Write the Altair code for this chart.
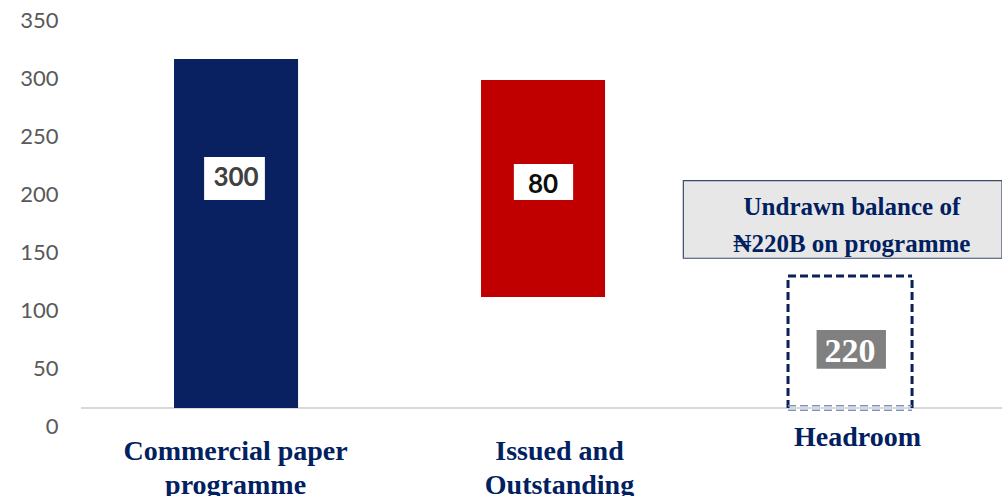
import json
import altair as alt
import pandas as pd

# ---- data (value units of the y axis) ----
categories = ["Commercial paper programme", "Issued and Outstanding", "Headroom"]
label_lines = [["Commercial paper", "programme"], ["Issued and", "Outstanding"], ["Headroom"]]
label_pos = [0.502, 1.557, 2.528]          # where each category caption sits
bar_center = [0.505, 1.505, 2.505]
bar_half = 0.202
bar_start = [15.5, 111.2, 15.5]
bar_end = [316.4, 298.3, 129.3]
bar_fill = ["#0a2161", "#c00000", "none"]
value_labels = ["300", "80", "220"]
value_label_y = [213.5, 207.8, 64.1]
value_box_x = [(0.401, 0.599), (1.410, 1.603), (2.396, 2.622)]
value_box_y = [(194.8, 231.9), (194.8, 225.9), (49.4, 82.8)]
value_box_fill = ["#ffffff", "#ffffff", "#808080"]
value_text_color = ["#404040", "#0d0d0d", "#ffffff"]
baseline_value = 15.5
note_lines = ["Undrawn balance of", "₦220B on programme"]
note_box_x = (1.962, 3.0)
note_box_y = (144.6, 211.5)
note_first_line = (2.511, 189.1)
y_ticks = [0, 50, 100, 150, 200, 250, 300, 350]

NAVY = "#002060"

xs = alt.Scale(domain=[0, 3], nice=False, zero=False)
ys = alt.Scale(domain=[0, 350], nice=False, zero=False)

expr = "datum.value < 1 ? {} : datum.value < 2 ? {} : {}".format(
    *[json.dumps(l) for l in label_lines])

xaxis = alt.Axis(values=label_pos, labelExpr=expr, title=None, grid=False, ticks=False,
                 domain=False, labelFont="Liberation Serif", labelFontWeight="bold",
                 labelFontSize=28, labelColor=NAVY, labelLineHeight=34, labelAngle=0,
                 labelFlush=False, labelOverlap=False, labelLimit=0,
                 labelPadding={"condition": {"test": "datum.value > 2", "value": -3}, "value": 11})
yaxis = alt.Axis(values=y_ticks, title=None, grid=False, ticks=False, domain=False,
                 labelFont="Lato", labelFontSize=22, labelColor="#595959", labelPadding=23)

bars_df = pd.DataFrame({
    "cat": categories,
    "x0": [c - bar_half for c in bar_center],
    "x1": [c + bar_half for c in bar_center],
    "y0": bar_start, "y1": bar_end, "fill": bar_fill,
})
filled = bars_df[bars_df["fill"] != "none"]

bars = alt.Chart(filled).mark_rect().encode(
    x=alt.X("x0:Q", scale=xs, axis=xaxis), x2="x1",
    y=alt.Y("y0:Q", scale=ys, axis=yaxis), y2="y1",
    color=alt.Color("fill:N", scale=None),
)

base_df = pd.DataFrame({"x0": [0], "x1": [3], "y": [baseline_value]})
baseline = alt.Chart(base_df).mark_rule(color="#d9d9d9", strokeWidth=2).encode(
    x=alt.X("x0:Q", scale=xs), x2="x1", y=alt.Y("y:Q", scale=ys))

# dashed outline of the headroom box (three sides)
h = bars_df.iloc[2]
seg_df = pd.DataFrame({
    "x": [h.x0, h.x1, h.x0],
    "x2": [h.x0, h.x1, h.x1],
    "y": [h.y0, h.y0, h.y1],
    "y2": [h.y1, h.y1, h.y1],
})
dashed = alt.Chart(seg_df).mark_rule(color="#0a1f5c", strokeWidth=3, strokeDash=[8, 4]).encode(
    x=alt.X("x:Q", scale=xs), x2="x2", y=alt.Y("y:Q", scale=ys), y2="y2")

double_df = pd.DataFrame({"x": [h.x0, h.x0], "x2": [h.x1, h.x1],
                          "y": [h.y0 + 2.0, h.y0 - 2.0]})
double = alt.Chart(double_df).mark_rule(color="#7f93bf", strokeWidth=1.5, strokeDash=[8, 4]).encode(
    x=alt.X("x:Q", scale=xs), x2="x2", y=alt.Y("y:Q", scale=ys))

vb_df = pd.DataFrame({
    "x0": [a for a, b in value_box_x], "x1": [b for a, b in value_box_x],
    "y0": [a for a, b in value_box_y], "y1": [b for a, b in value_box_y],
    "fill": value_box_fill,
    "xc": bar_center, "yc": value_label_y, "txt": value_labels, "tc": value_text_color,
})
vboxes = alt.Chart(vb_df).mark_rect().encode(
    x=alt.X("x0:Q", scale=xs), x2="x1", y=alt.Y("y0:Q", scale=ys), y2="y1",
    color=alt.Color("fill:N", scale=None))
vtext_sans = alt.Chart(vb_df.iloc[:2]).mark_text(font="Lato", fontWeight="bold", fontSize=26,
                                                  baseline="middle").encode(
    x=alt.X("xc:Q", scale=xs), y=alt.Y("yc:Q", scale=ys), text="txt:N",
    color=alt.Color("tc:N", scale=None))
vtext_serif = alt.Chart(vb_df.iloc[2:]).mark_text(font="Liberation Serif", fontWeight="bold",
                                                   fontSize=34, baseline="middle").encode(
    x=alt.X("xc:Q", scale=xs), y=alt.Y("yc:Q", scale=ys), text="txt:N",
    color=alt.Color("tc:N", scale=None))

note_df = pd.DataFrame({"x0": [note_box_x[0]], "x1": [note_box_x[1]],
                        "y0": [note_box_y[0]], "y1": [note_box_y[1]],
                        "xc": [note_first_line[0]], "yc": [note_first_line[1]],
                        "txt": ["\n".join(note_lines)]})
note_box = alt.Chart(note_df).mark_rect(fill="#e7e7e7", stroke="#3b4a6b", strokeWidth=1.2).encode(
    x=alt.X("x0:Q", scale=xs), x2="x1", y=alt.Y("y0:Q", scale=ys), y2="y1")
note_text = alt.Chart(note_df).mark_text(font="Liberation Serif", fontWeight="bold", fontSize=25,
                                         color=NAVY, lineBreak="\n", lineHeight=37,
                                         baseline="middle").encode(
    x=alt.X("xc:Q", scale=xs), y=alt.Y("yc:Q", scale=ys), text="txt:N")

chart = alt.layer(baseline, bars, dashed, double, vboxes, vtext_sans, vtext_serif,
                  note_box, note_text).properties(
    width=921, height=406,
    autosize=alt.AutoSizeParams(type="none"),
    padding={"left": 81, "top": 20, "right": 0, "bottom": 70},
    background="white",
).configure_view(strokeWidth=0)

chart.save("out.html", embed_options={"renderer": "svg", "actions": False})
